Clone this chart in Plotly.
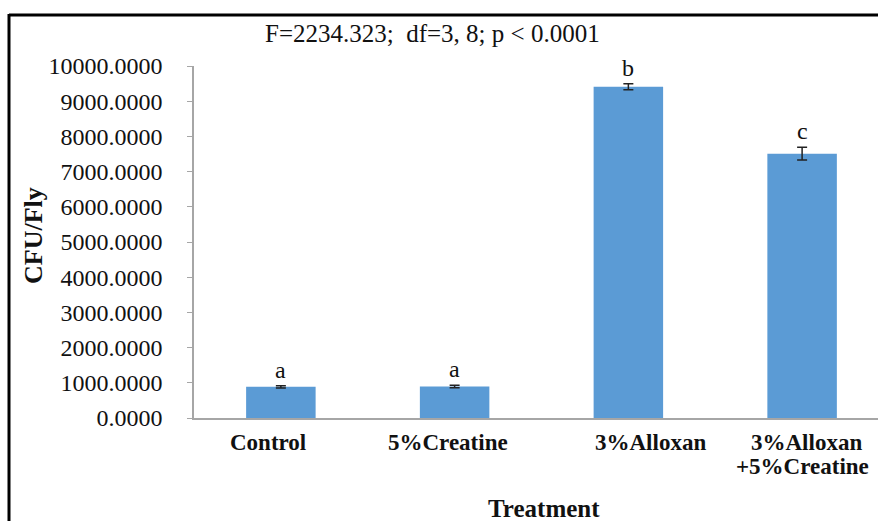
import plotly.graph_objects as go

categories = ["Control", "5%Creatine", "3%Alloxan", "3%Alloxan<br>+5%Creatine"]
means = [885, 895, 9410, 7510]
errors = [30, 35, 85, 180]
letters = ["a", "a", "b", "c"]
y_ticks = [0, 1000, 2000, 3000, 4000, 5000, 6000, 7000, 8000, 9000, 10000]
y_tick_text = [f"{v:.4f}" for v in y_ticks]
stat_text = "F=2234.323;  df=3, 8; p < 0.0001"

W, H = 878, 521
L, R, T, B = 194, 0, 66, H - 418
pw, ph = W - L - R, H - T - B

def px(x):
    return (x - L) / pw

def py(y):
    return (H - B - y) / ph

serif = "Liberation Serif, Times New Roman, serif"

fig = go.Figure()
fig.add_trace(go.Bar(
    x=list(range(len(categories))), y=means,
    width=0.4,
    marker=dict(color="#5B9BD5", line=dict(width=0)),
    error_y=dict(type="data", array=errors, visible=True, color="#222222",
                 thickness=1.5, width=5),
))

for i, (m, e, t) in enumerate(zip(means, errors, letters)):
    fig.add_annotation(x=i, y=m + e, text=t, showarrow=False, yanchor="bottom",
                       yshift=1, font=dict(family=serif, size=24, color="#111111"))

# category labels (placed like the original's slightly offset labels)
label_xshift = {0: [-13], 1: [-7], 2: [22], 3: [4, 0]}
for i, c in enumerate(categories):
    for j, line in enumerate(c.split("<br>")):
        fig.add_annotation(x=i, y=0, text=f"<b>{line}</b>", showarrow=False,
                           xanchor="center", yanchor="middle",
                           xshift=label_xshift[i][j], yshift=-24 - 24 * j,
                           font=dict(family=serif, size=23, color="#111111"))

fig.add_annotation(x=px(432), y=py(33), xref="paper", yref="paper", text=stat_text,
                   showarrow=False, xanchor="center", yanchor="middle",
                   font=dict(family=serif, size=25, color="#111111"))

fig.add_annotation(x=px(33), y=py(236), xref="paper", yref="paper", text="<b>CFU/Fly</b>",
                   showarrow=False, textangle=-90, xanchor="center", yanchor="middle",
                   font=dict(family=serif, size=26, color="#111111"))

fig.add_annotation(x=px(544), y=py(508), xref="paper", yref="paper", text="<b>Treatment</b>",
                   showarrow=False, xanchor="center", yanchor="middle",
                   font=dict(family=serif, size=25, color="#111111"))

# outer frame (left and top)
fig.add_shape(type="line", xref="paper", yref="paper", x0=px(9), x1=px(920),
              y0=py(15), y1=py(15), line=dict(color="black", width=3))
fig.add_shape(type="line", xref="paper", yref="paper", x0=px(9), x1=px(9),
              y0=py(14), y1=py(560), line=dict(color="black", width=3))

fig.update_layout(
    width=W, height=H,
    margin=dict(l=L, r=R, t=T, b=B, pad=0),
    paper_bgcolor="white", plot_bgcolor="white",
    showlegend=False,
    xaxis=dict(
        range=[-0.5, 3.5 - 11 / 174],
        tickmode="array", tickvals=list(range(len(categories))),
        showticklabels=False,
        showline=True, linecolor="#A6A6A6", linewidth=1.5,
        ticks="", showgrid=False, zeroline=False,
    ),
    yaxis=dict(
        range=[0, 10000],
        tickmode="array", tickvals=y_ticks, ticktext=y_tick_text,
        showline=True, linecolor="#A6A6A6", linewidth=1.5,
        ticks="outside", ticklen=5, tickcolor="#A6A6A6", tickwidth=1,
        showgrid=False, zeroline=False,
        tickfont=dict(family=serif, size=24, color="#111111"),
        ticklabelstandoff=20,
    ),
)

fig.write_html("out.html", config={"displayModeBar": False},
               post_script="document.body.style.margin='0';document.body.style.overflow='hidden';")
